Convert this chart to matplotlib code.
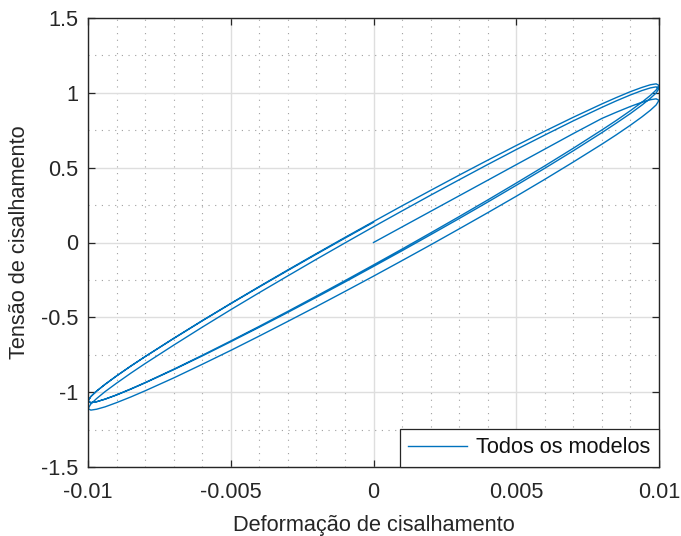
import matplotlib
matplotlib.use("Agg")
import matplotlib.pyplot as plt
from matplotlib.ticker import MultipleLocator

plt.rcParams['font.family'] = ['Liberation Sans', 'DejaVu Sans']
plt.rcParams['axes.unicode_minus'] = False

# Shear strain sampling points (shared by every half-cycle)
strain = [-0.0100, -0.0099, -0.0097, -0.0094, -0.0090, -0.0085, -0.0080,
          -0.0070, -0.0060, -0.0050, -0.0040, -0.0030, -0.0020, -0.0010,
          0.0000, 0.0010, 0.0020, 0.0030, 0.0040, 0.0050, 0.0060, 0.0070,
          0.0080, 0.0085, 0.0090, 0.0094, 0.0097, 0.0099, 0.0100]

# First loading, strain 0 -> +0.01 (strain[14:])
stress_load0 = [0.000, 0.104, 0.208, 0.312, 0.416, 0.520, 0.624, 0.728,
                0.829, 0.870, 0.909, 0.937, 0.954, 0.960, 0.950]

# Unloading / reloading branches, listed in increasing strain order
stress_unload1 = [-1.110, -1.120, -1.114, -1.098, -1.070, -1.032, -0.991,
                  -0.905, -0.814, -0.721, -0.625, -0.527, -0.428, -0.327,
                  -0.225, -0.121, -0.016, 0.091, 0.199, 0.309, 0.422, 0.538,
                  0.657, 0.719, 0.784, 0.839, 0.884, 0.919, 0.950]
stress_reload1 = [-1.110, -1.079, -1.043, -0.996, -0.940, -0.873, -0.809,
                  -0.686, -0.566, -0.449, -0.335, -0.223, -0.112, -0.003,
                  0.105, 0.211, 0.316, 0.419, 0.521, 0.621, 0.718, 0.813,
                  0.903, 0.946, 0.986, 1.015, 1.033, 1.040, 1.030]
stress_unload2 = [-1.060, -1.070, -1.064, -1.047, -1.019, -0.980, -0.938,
                  -0.850, -0.758, -0.663, -0.566, -0.467, -0.366, -0.264,
                  -0.160, -0.055, 0.052, 0.160, 0.270, 0.382, 0.496, 0.613,
                  0.734, 0.797, 0.862, 0.918, 0.964, 0.999, 1.030]
stress_reload2 = [-1.060, -1.029, -0.993, -0.947, -0.891, -0.825, -0.762,
                  -0.640, -0.522, -0.407, -0.294, -0.183, -0.074, 0.034,
                  0.140, 0.245, 0.348, 0.450, 0.550, 0.648, 0.744, 0.837,
                  0.926, 0.968, 1.008, 1.036, 1.054, 1.060, 1.050]
stress_unload3 = [-1.060, -1.070, -1.064, -1.046, -1.018, -0.978, -0.936,
                  -0.847, -0.754, -0.658, -0.560, -0.460, -0.358, -0.255,
                  -0.150, -0.044, 0.064, 0.173, 0.284, 0.397, 0.512, 0.630,
                  0.752, 0.815, 0.881, 0.937, 0.983, 1.019, 1.050]
# Last reloading, strain -0.01 -> 0 (strain[:15])
stress_reload3 = [-1.060, -1.029, -0.993, -0.948, -0.892, -0.826, -0.763,
                  -0.642, -0.524, -0.409, -0.297, -0.187, -0.078, 0.029,
                  0.135]

x_ticks = [-0.01, -0.005, 0, 0.005, 0.01]
x_tick_labels = ['-0.01', '-0.005', '0', '0.005', '0.01']
y_ticks = [-1.5, -1, -0.5, 0, 0.5, 1, 1.5]
y_tick_labels = ['-1.5', '-1', '-0.5', '0', '0.5', '1', '1.5']

# Chain the half-cycles into one continuous stress-strain path
up = list(strain)
down = up[::-1]
gam = list(strain[14:]) + down + up + down + up + down + list(strain[:15])
tau = (list(stress_load0) + stress_unload1[::-1] + stress_reload1
       + stress_unload2[::-1] + stress_reload2 + stress_unload3[::-1]
       + list(stress_reload3))

FS = 15.7

fig = plt.figure(figsize=(6.81, 5.36), dpi=100)
ax = fig.add_axes([88 / 681, 69 / 536, 571 / 681, 449 / 536])

ax.plot(gam, tau, color='#0072BD', lw=1.0, label='Todos os modelos')

ax.set_xlim(-0.01, 0.01)
ax.set_ylim(-1.5, 1.5)
ax.set_xticks(x_ticks)
ax.set_xticklabels(x_tick_labels)
ax.set_yticks(y_ticks)
ax.set_yticklabels(y_tick_labels)
ax.xaxis.set_minor_locator(MultipleLocator(0.001))
ax.yaxis.set_minor_locator(MultipleLocator(0.25))

ax.grid(True, which='major', color='#dedede', lw=1.0)
ax.grid(True, which='minor', color='#a0a0a0', lw=0.8, linestyle=(0, (1, 5)))
ax.set_axisbelow(True)

ax.tick_params(which='major', direction='in', top=True, right=True,
               length=5, width=0.9, color='#262626', labelcolor='#262626',
               labelsize=FS)
ax.tick_params(axis='x', which='major', pad=10.5)
ax.tick_params(axis='y', which='major', pad=7)
ax.tick_params(which='minor', length=0)
for sp in ax.spines.values():
    sp.set_color('#262626')
    sp.set_linewidth(1.0)

ax.set_xlabel('Deformação de cisalhamento', fontsize=FS, color='#262626',
              labelpad=9)
ax.set_ylabel('Tensão de cisalhamento', fontsize=FS, color='#262626',
              labelpad=8)

leg = ax.legend(loc='lower right', borderaxespad=0, fancybox=False,
                edgecolor='#262626', framealpha=1, fontsize=FS,
                handlelength=2.7, handletextpad=0.4, borderpad=0.4)
leg.get_frame().set_linewidth(0.9)
for t in leg.get_texts():
    t.set_color('#111111')

fig.savefig('out.png', dpi=100)
